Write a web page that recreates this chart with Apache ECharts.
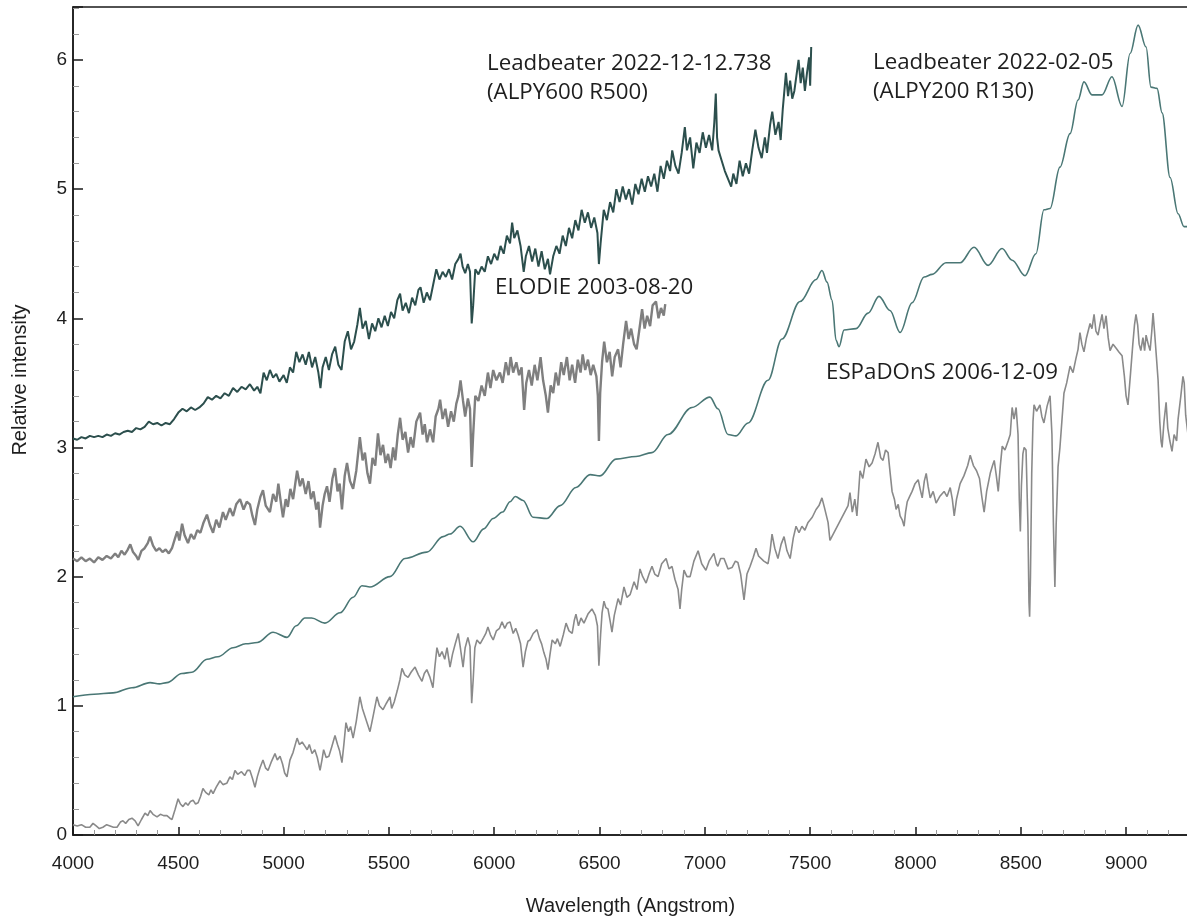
<!DOCTYPE html>
<html>
<head>
<meta charset="utf-8">
<title>Relative intensity spectra</title>
<script src="https://cdn.jsdelivr.net/npm/echarts@6/dist/echarts.min.js"></script>
<style>
  html, body { margin: 0; padding: 0; background: #ffffff; }
  #chart { width: 1187px; height: 919px; }
</style>
</head>
<body>
<div id="chart"></div>
<script>
// Wavelength range (Angstrom) and intensity range
const xRange = [4000, 9294];
const yRange = [0, 6.41];

// Series labels, one entry per drawn line of text
const labelAlpy600 = ['Leadbeater 2022-12-12.738', '(ALPY600 R500)'];
const labelAlpy200 = ['Leadbeater 2022-02-05', '(ALPY200 R130)'];
const labelElodie = ['ELODIE 2003-08-20'];
const labelEspadons = ['ESPaDOnS 2006-12-09'];

// Leadbeater 2022-12-12.738, ALPY600 R500 (offset spectrum)
const alpy600 = [
  [4000,3.07],[4020,3.06],[4040,3.08],[4060,3.07],[4080,3.09],[4100,3.08],[4120,3.09],[4140,3.08],
  [4160,3.10],[4180,3.09],[4200,3.11],[4220,3.10],[4240,3.12],[4260,3.13],[4280,3.12],[4300,3.15],
  [4320,3.14],[4340,3.16],[4360,3.20],[4380,3.18],[4400,3.19],[4420,3.17],[4440,3.19],[4460,3.18],
  [4480,3.22],[4500,3.27],[4520,3.30],[4540,3.28],[4560,3.31],[4580,3.29],[4600,3.31],[4620,3.34],
  [4640,3.39],[4660,3.37],[4680,3.40],[4700,3.38],[4720,3.42],[4740,3.40],[4760,3.46],[4780,3.43],
  [4800,3.47],[4820,3.45],[4840,3.49],[4860,3.44],[4875,3.47],[4890,3.42],[4905,3.58],[4920,3.52],
  [4935,3.60],[4950,3.54],[4965,3.57],[4980,3.51],[5000,3.56],[5015,3.50],[5030,3.62],[5045,3.58],
  [5060,3.74],[5075,3.66],[5090,3.72],[5105,3.64],[5120,3.74],[5135,3.62],[5150,3.70],[5165,3.58],
  [5175,3.46],[5185,3.62],[5200,3.70],[5215,3.60],[5230,3.72],[5245,3.78],[5260,3.64],[5275,3.60],
  [5290,3.82],[5305,3.90],[5320,3.76],[5335,3.82],[5350,3.95],[5362,4.08],[5375,3.92],[5390,3.98],
  [5405,3.84],[5420,3.96],[5435,3.90],[5450,4.00],[5465,3.93],[5480,4.02],[5495,3.94],[5510,4.05],
  [5525,4.00],[5540,4.14],[5553,4.19],[5565,4.06],[5580,4.12],[5595,4.04],[5610,4.16],[5625,4.10],
  [5640,4.22],[5650,4.24],[5665,4.12],[5680,4.20],[5695,4.14],[5710,4.26],[5725,4.38],[5740,4.30],
  [5755,4.36],[5770,4.32],[5785,4.38],[5800,4.30],[5815,4.42],[5830,4.46],[5840,4.50],[5850,4.40],
  [5862,4.35],[5875,4.42],[5885,4.36],[5893,3.96],[5900,4.10],[5910,4.38],[5925,4.34],[5940,4.40],
  [5955,4.36],[5970,4.48],[5985,4.42],[6000,4.50],[6015,4.45],[6030,4.56],[6045,4.50],[6060,4.64],
  [6075,4.58],[6085,4.74],[6095,4.62],[6110,4.68],[6125,4.56],[6140,4.36],[6150,4.48],[6165,4.56],
  [6180,4.44],[6195,4.54],[6210,4.40],[6225,4.52],[6240,4.38],[6255,4.46],[6265,4.34],[6280,4.48],
  [6295,4.56],[6310,4.50],[6325,4.64],[6340,4.56],[6355,4.70],[6370,4.62],[6385,4.76],[6400,4.68],
  [6415,4.84],[6430,4.74],[6445,4.82],[6460,4.70],[6475,4.78],[6490,4.66],[6497,4.42],[6505,4.58],
  [6520,4.84],[6535,4.76],[6550,4.90],[6565,4.82],[6580,5.00],[6595,4.90],[6610,5.02],[6625,4.92],
  [6640,5.00],[6655,4.88],[6670,5.04],[6685,4.96],[6700,5.08],[6715,4.98],[6730,5.10],[6745,5.02],
  [6760,5.12],[6775,4.98],[6790,5.18],[6805,5.08],[6820,5.22],[6835,5.14],[6845,5.30],[6860,5.18],
  [6875,5.12],[6890,5.28],[6905,5.48],[6915,5.30],[6930,5.40],[6945,5.16],[6960,5.36],[6975,5.28],
  [6990,5.44],[7005,5.32],[7020,5.42],[7035,5.30],[7045,5.52],[7052,5.74],[7058,5.40],[7065,5.30],
  [7080,5.22],[7095,5.14],[7110,5.08],[7125,5.02],[7135,5.12],[7150,5.04],[7165,5.22],[7180,5.10],
  [7195,5.20],[7210,5.12],[7225,5.30],[7240,5.46],[7255,5.32],[7270,5.24],[7285,5.40],[7295,5.28],
  [7310,5.50],[7320,5.60],[7335,5.42],[7350,5.52],[7360,5.38],[7370,5.62],[7385,5.90],[7395,5.72],
  [7405,5.84],[7415,5.70],[7425,5.76],[7435,5.88],[7445,6.00],[7455,5.82],[7465,5.94],[7475,5.76],
  [7485,5.90],[7495,6.02],[7500,5.80],[7505,6.10]
];

// ELODIE 2003-08-20 (offset spectrum)
const elodie = [
  [4000,2.14],[4020,2.12],[4040,2.15],[4060,2.12],[4080,2.14],[4100,2.11],[4120,2.15],[4140,2.13],
  [4160,2.16],[4180,2.14],[4200,2.18],[4215,2.15],[4230,2.20],[4245,2.17],[4260,2.21],[4272,2.25],
  [4285,2.19],[4300,2.16],[4310,2.13],[4325,2.20],[4340,2.22],[4355,2.26],[4366,2.31],[4380,2.24],
  [4395,2.20],[4410,2.22],[4425,2.19],[4440,2.21],[4455,2.18],[4470,2.22],[4485,2.30],[4495,2.35],
  [4505,2.28],[4518,2.41],[4530,2.32],[4546,2.26],[4560,2.33],[4575,2.29],[4590,2.36],[4605,2.34],
  [4620,2.42],[4636,2.48],[4650,2.40],[4665,2.34],[4680,2.44],[4695,2.38],[4712,2.50],[4725,2.44],
  [4745,2.53],[4760,2.47],[4775,2.56],[4793,2.60],[4810,2.52],[4825,2.58],[4840,2.56],[4852,2.47],
  [4864,2.40],[4875,2.52],[4890,2.62],[4902,2.67],[4915,2.55],[4935,2.50],[4950,2.64],[4965,2.58],
  [4975,2.72],[4988,2.56],[4997,2.46],[5010,2.60],[5020,2.54],[5032,2.68],[5045,2.60],[5064,2.82],
  [5078,2.70],[5090,2.76],[5105,2.64],[5118,2.74],[5130,2.60],[5142,2.66],[5155,2.52],[5165,2.58],
  [5173,2.38],[5185,2.55],[5195,2.64],[5206,2.70],[5218,2.58],[5232,2.76],[5244,2.84],[5256,2.66],
  [5266,2.72],[5277,2.52],[5290,2.78],[5301,2.88],[5315,2.74],[5330,2.68],[5345,2.82],[5362,3.08],
  [5375,2.90],[5386,2.96],[5398,2.80],[5410,2.72],[5422,2.92],[5435,2.86],[5448,3.11],[5460,2.94],
  [5472,3.02],[5484,2.88],[5496,2.95],[5508,2.84],[5520,3.00],[5530,2.90],[5542,3.10],[5553,3.23],
  [5565,3.06],[5578,3.12],[5591,2.96],[5603,3.08],[5615,3.00],[5630,3.20],[5648,3.27],[5660,3.10],
  [5670,3.18],[5681,3.04],[5695,3.14],[5710,3.04],[5722,3.24],[5735,3.30],[5743,3.37],[5755,3.22],
  [5768,3.30],[5781,3.16],[5795,3.28],[5808,3.20],[5820,3.34],[5830,3.40],[5840,3.52],[5852,3.36],
  [5862,3.24],[5875,3.38],[5885,3.30],[5893,2.85],[5900,3.10],[5910,3.40],[5925,3.36],[5940,3.48],
  [5955,3.40],[5970,3.58],[5982,3.46],[5995,3.60],[6010,3.52],[6027,3.58],[6040,3.50],[6055,3.66],
  [6068,3.56],[6078,3.70],[6090,3.58],[6105,3.66],[6118,3.56],[6130,3.62],[6142,3.29],[6152,3.50],
  [6165,3.60],[6178,3.48],[6192,3.64],[6205,3.52],[6220,3.70],[6232,3.52],[6245,3.40],[6255,3.27],
  [6268,3.48],[6280,3.42],[6292,3.58],[6305,3.48],[6318,3.66],[6330,3.56],[6345,3.70],[6358,3.52],
  [6370,3.64],[6384,3.50],[6397,3.68],[6410,3.58],[6420,3.72],[6432,3.60],[6445,3.68],[6458,3.56],
  [6470,3.64],[6485,3.55],[6492,3.40],[6497,3.05],[6503,3.42],[6512,3.66],[6522,3.82],[6535,3.66],
  [6548,3.74],[6560,3.55],[6572,3.70],[6588,3.76],[6600,3.62],[6612,3.80],[6626,3.98],[6638,3.84],
  [6650,3.92],[6664,3.80],[6676,3.76],[6688,3.90],[6702,4.07],[6714,3.92],[6726,4.02],[6740,3.94],
  [6752,4.10],[6768,4.13],[6780,4.00],[6792,4.08],[6805,4.02],[6812,4.11]
];

// Leadbeater 2022-02-05, ALPY200 R130 (offset spectrum, low resolution)
const alpy200 = [
  [4000,1.07],[4100,1.09],[4190,1.10],[4280,1.14],[4366,1.18],[4410,1.17],[4446,1.18],[4517,1.25],
  [4565,1.26],[4636,1.36],[4688,1.38],[4760,1.45],[4820,1.48],[4875,1.49],[4950,1.57],[5016,1.53],
  [5060,1.62],[5101,1.68],[5133,1.68],[5196,1.64],[5268,1.72],[5330,1.84],[5372,1.93],[5410,1.92],
  [5505,2.00],[5576,2.14],[5680,2.19],[5757,2.31],[5790,2.33],[5838,2.39],[5900,2.27],[5950,2.37],
  [5995,2.45],[6040,2.50],[6075,2.58],[6100,2.62],[6137,2.59],[6184,2.46],[6250,2.45],[6313,2.55],
  [6388,2.69],[6455,2.79],[6502,2.78],[6578,2.91],[6673,2.93],[6749,2.96],[6825,3.10],[6939,3.31],
  [7024,3.39],[7062,3.30],[7110,3.10],[7148,3.09],[7205,3.19],[7300,3.52],[7366,3.84],[7452,4.13],
  [7528,4.30],[7556,4.37],[7580,4.28],[7604,4.14],[7623,3.83],[7637,3.78],[7661,3.91],[7718,3.92],
  [7775,4.04],[7827,4.17],[7879,4.06],[7927,3.89],[7984,4.12],[8041,4.32],[8079,4.34],[8145,4.43],
  [8212,4.43],[8278,4.55],[8345,4.41],[8411,4.54],[8459,4.45],[8520,4.33],[8572,4.50],[8610,4.84],
  [8639,4.85],[8686,5.17],[8734,5.43],[8772,5.69],[8800,5.83],[8838,5.73],[8886,5.73],[8933,5.87],
  [8981,5.64],[9019,6.05],[9057,6.27],[9095,6.10],[9118,5.79],[9147,5.78],[9171,5.59],[9209,5.09],
  [9247,4.81],[9275,4.71],[9294,4.71]
];

// ESPaDOnS 2006-12-09
const espadons = [
  [4000,0.08],[4020,0.07],[4040,0.08],[4060,0.06],[4080,0.06],[4095,0.09],[4110,0.07],[4125,0.05],
  [4142,0.06],[4160,0.08],[4176,0.07],[4192,0.06],[4209,0.06],[4225,0.10],[4237,0.11],[4250,0.09],
  [4265,0.12],[4280,0.13],[4295,0.11],[4309,0.07],[4325,0.12],[4342,0.17],[4355,0.15],[4366,0.19],
  [4380,0.16],[4399,0.14],[4415,0.16],[4430,0.15],[4446,0.15],[4460,0.13],[4470,0.12],[4485,0.20],
  [4499,0.28],[4510,0.24],[4522,0.22],[4535,0.25],[4546,0.23],[4558,0.26],[4570,0.27],[4582,0.24],
  [4594,0.25],[4606,0.30],[4617,0.36],[4630,0.33],[4645,0.31],[4655,0.35],[4665,0.32],[4680,0.37],
  [4698,0.42],[4712,0.39],[4730,0.40],[4745,0.45],[4757,0.43],[4769,0.50],[4782,0.47],[4800,0.49],
  [4815,0.46],[4828,0.50],[4840,0.50],[4852,0.44],[4864,0.37],[4875,0.45],[4888,0.52],[4902,0.58],
  [4914,0.52],[4926,0.50],[4940,0.56],[4959,0.63],[4970,0.58],[4983,0.61],[4995,0.55],[5005,0.48],
  [5016,0.45],[5030,0.58],[5045,0.64],[5064,0.75],[5075,0.70],[5088,0.72],[5100,0.69],[5112,0.66],
  [5122,0.70],[5135,0.63],[5148,0.66],[5160,0.60],[5173,0.50],[5182,0.58],[5190,0.66],[5202,0.60],
  [5215,0.61],[5228,0.68],[5244,0.77],[5256,0.70],[5266,0.65],[5277,0.56],[5286,0.70],[5296,0.87],
  [5308,0.80],[5318,0.84],[5330,0.75],[5345,0.88],[5362,1.07],[5374,0.98],[5386,0.92],[5398,0.86],
  [5410,0.80],[5425,0.92],[5443,1.07],[5455,1.00],[5472,0.97],[5488,1.02],[5505,1.07],[5513,0.98],
  [5525,1.03],[5540,1.12],[5552,1.20],[5562,1.29],[5575,1.24],[5591,1.22],[5605,1.26],[5624,1.30],
  [5640,1.24],[5657,1.19],[5668,1.25],[5680,1.28],[5695,1.22],[5709,1.14],[5718,1.30],[5728,1.45],
  [5740,1.38],[5752,1.42],[5765,1.36],[5776,1.45],[5790,1.30],[5802,1.40],[5815,1.48],[5829,1.56],
  [5840,1.44],[5852,1.30],[5862,1.45],[5875,1.53],[5885,1.46],[5893,1.02],[5900,1.20],[5908,1.45],
  [5918,1.51],[5933,1.48],[5950,1.53],[5960,1.56],[5970,1.61],[5982,1.55],[5995,1.51],[6010,1.58],
  [6025,1.60],[6037,1.65],[6050,1.60],[6062,1.64],[6075,1.65],[6090,1.56],[6102,1.60],[6113,1.55],
  [6125,1.48],[6137,1.30],[6148,1.42],[6160,1.50],[6170,1.51],[6185,1.56],[6203,1.59],[6215,1.52],
  [6225,1.48],[6236,1.41],[6246,1.36],[6255,1.28],[6265,1.40],[6275,1.51],[6290,1.48],[6300,1.52],
  [6313,1.46],[6328,1.55],[6341,1.64],[6355,1.58],[6370,1.56],[6380,1.66],[6388,1.71],[6400,1.62],
  [6412,1.68],[6426,1.64],[6445,1.71],[6464,1.75],[6480,1.70],[6490,1.62],[6497,1.31],[6505,1.55],
  [6512,1.72],[6521,1.81],[6530,1.76],[6540,1.75],[6550,1.66],[6559,1.57],[6570,1.70],[6588,1.83],
  [6600,1.78],[6616,1.92],[6630,1.84],[6645,1.86],[6664,1.96],[6678,1.90],[6692,2.06],[6705,2.00],
  [6721,1.95],[6735,2.02],[6749,2.08],[6762,2.02],[6778,2.00],[6795,2.10],[6816,2.14],[6830,2.06],
  [6844,2.08],[6858,1.98],[6873,1.90],[6882,1.75],[6890,1.90],[6901,2.05],[6915,2.00],[6930,2.00],
  [6948,2.12],[6968,2.20],[6985,2.10],[7005,2.05],[7020,2.12],[7043,2.18],[7055,2.10],[7062,2.08],
  [7075,2.14],[7091,2.14],[7110,2.06],[7129,2.07],[7145,2.12],[7157,2.11],[7170,2.02],[7186,1.82],
  [7200,2.02],[7215,2.08],[7230,2.15],[7243,2.22],[7255,2.16],[7262,2.15],[7280,2.12],[7300,2.10],
  [7310,2.20],[7319,2.33],[7332,2.22],[7347,2.14],[7362,2.25],[7376,2.31],[7390,2.20],[7405,2.14],
  [7420,2.30],[7433,2.39],[7447,2.34],[7461,2.39],[7475,2.36],[7490,2.42],[7510,2.46],[7528,2.52],
  [7542,2.55],[7556,2.61],[7567,2.54],[7575,2.55],[7585,2.42],[7594,2.28],[7680,2.55],[7689,2.65],
  [7700,2.50],[7712,2.60],[7722,2.47],[7737,2.82],[7750,2.76],[7765,2.91],[7780,2.85],[7794,2.88],
  [7808,2.95],[7822,3.04],[7835,2.92],[7846,2.90],[7858,2.98],[7870,2.96],[7880,2.80],[7889,2.66],
  [7900,2.60],[7908,2.52],[7918,2.56],[7927,2.47],[7937,2.44],[7946,2.39],[7953,2.50],[7961,2.58],
  [7972,2.62],[7984,2.66],[7998,2.72],[8013,2.75],[8022,2.68],[8032,2.61],[8042,2.74],[8051,2.80],
  [8060,2.70],[8070,2.61],[8084,2.66],[8098,2.57],[8115,2.62],[8136,2.66],[8150,2.62],[8165,2.69],
  [8175,2.60],[8184,2.47],[8195,2.60],[8212,2.72],[8230,2.78],[8248,2.86],[8260,2.94],[8275,2.86],
  [8290,2.82],[8304,2.76],[8315,2.62],[8326,2.50],[8338,2.66],[8355,2.80],[8366,2.86],[8374,2.90],
  [8384,2.78],[8393,2.66],[8403,2.86],[8412,3.01],[8425,2.98],[8440,3.05],[8450,3.10],[8459,3.31],
  [8468,3.22],[8478,3.31],[8487,3.10],[8493,2.60],[8498,2.35],[8503,2.70],[8510,2.95],[8516,3.00],
  [8525,2.98],[8534,2.40],[8539,1.80],[8542,1.69],[8546,2.00],[8552,2.80],[8558,3.20],[8563,3.33],
  [8575,3.28],[8591,3.33],[8600,3.24],[8610,3.19],[8625,3.32],[8639,3.40],[8648,3.10],[8655,2.40],
  [8662,1.92],[8668,2.40],[8677,2.85],[8686,3.00],[8695,3.20],[8705,3.42],[8718,3.50],[8734,3.63],
  [8748,3.58],[8762,3.69],[8772,3.76],[8781,3.89],[8790,3.80],[8800,3.74],[8812,3.85],[8829,3.96],
  [8838,3.92],[8848,4.03],[8857,3.90],[8867,3.87],[8876,3.95],[8886,4.03],[8895,3.92],[8905,4.02],
  [8915,3.85],[8924,3.75],[8938,3.80],[8952,3.77],[8966,3.74],[8981,3.71],[8992,3.55],[9000,3.40],
  [9009,3.33],[9020,3.55],[9032,3.80],[9040,3.95],[9047,4.03],[9055,3.95],[9062,3.80],[9070,3.75],
  [9080,3.85],[9088,3.75],[9095,3.87],[9105,3.80],[9114,3.75],[9122,3.90],[9128,4.04],[9135,3.90],
  [9144,3.70],[9152,3.52],[9160,3.20],[9166,3.05],[9171,3.00],[9180,3.20],[9190,3.35],[9198,3.15],
  [9208,3.05],[9218,2.97],[9228,3.10],[9240,3.05],[9247,3.22],[9260,3.40],[9270,3.55],[9276,3.50],
  [9283,3.25],[9294,3.10]
];

const axisFontFamily = '"Liberation Sans", Arial, sans-serif';
const tickFont = { fontFamily: axisFontFamily, fontSize: 19, color: '#1e1e1e' };
const noteFont = '22.3px "Open Sans", sans-serif';

const chart = echarts.init(document.getElementById('chart'), null, { renderer: 'canvas' });

function lineSeries(name, data, color, width, smooth) {
  return {
    name: name,
    type: 'line',
    data: data,
    showSymbol: false,
    symbol: 'none',
    smooth: smooth ? 0.35 : false,
    smoothMonotone: smooth ? 'x' : undefined,
    lineStyle: { color: color, width: width },
    emphasis: { disabled: true },
    z: 3
  };
}

// One text element per label line, anchored at its left edge and vertical middle
function noteLines(lines, x, yFirst, lineGap) {
  return lines.map(function (line, i) {
    return {
      type: 'text', x: x, y: yFirst + i * lineGap,
      style: { text: line, font: noteFont, fill: '#1e1e1e', textAlign: 'left', textVerticalAlign: 'middle' }
    };
  });
}

chart.setOption({
  animation: false,
  backgroundColor: '#ffffff',
  grid: {
    left: 73, top: 7, right: -1, bottom: 84,
    containLabel: false,
    outerBoundsMode: 'none',
    show: true, borderColor: '#1a1a1a', borderWidth: 1.5, backgroundColor: 'transparent'
  },
  xAxis: {
    type: 'value',
    min: xRange[0], max: xRange[1], interval: 500,
    name: 'Wavelength (Angstrom)',
    nameLocation: 'middle',
    nameGap: 61,
    nameTextStyle: { fontFamily: axisFontFamily, fontSize: 20, color: '#1e1e1e' },
    axisLine: { show: true, lineStyle: { color: '#1a1a1a', width: 1.5 } },
    axisTick: { show: true, inside: true, length: 8, lineStyle: { color: '#1a1a1a', width: 1.5 } },
    minorTick: { show: true, splitNumber: 5, length: 5, lineStyle: { color: '#9a9a9a', width: 1 } },
    axisLabel: Object.assign({ margin: 19, showMaxLabel: false, formatter: function (v) { return String(v); } }, tickFont),
    splitLine: { show: false }
  },
  yAxis: {
    type: 'value',
    min: yRange[0], max: yRange[1], interval: 1,
    axisLine: { show: true, lineStyle: { color: '#1a1a1a', width: 1.5 } },
    axisTick: { show: true, inside: true, length: 10, lineStyle: { color: '#1a1a1a', width: 1.5 } },
    minorTick: { show: true, splitNumber: 5, length: 6, lineStyle: { color: '#9a9a9a', width: 1 } },
    axisLabel: Object.assign({ margin: 6, showMaxLabel: false }, tickFont),
    splitLine: { show: false }
  },
  series: [
    lineSeries('ESPaDOnS', espadons, '#8a8a8a', 1.6, false),
    lineSeries('ALPY200', alpy200, '#4a7775', 1.6, true),
    lineSeries('ELODIE', elodie, '#7f7f7f', 2.4, false),
    lineSeries('ALPY600', alpy600, '#2c4f4d', 2, false)
  ],
  graphic: [
    {
      type: 'text', x: 20, y: 380, rotation: Math.PI / 2,
      style: {
        text: 'Relative intensity', font: '20px "Liberation Sans", Arial, sans-serif',
        fill: '#1e1e1e', textAlign: 'center', textVerticalAlign: 'middle'
      }
    }
  ].concat(
    noteLines(labelAlpy600, 487, 64, 29),
    noteLines(labelAlpy200, 873, 63, 29),
    noteLines(labelElodie, 495, 288, 29),
    noteLines(labelEspadons, 826, 373, 29)
  )
});
</script>
</body>
</html>
